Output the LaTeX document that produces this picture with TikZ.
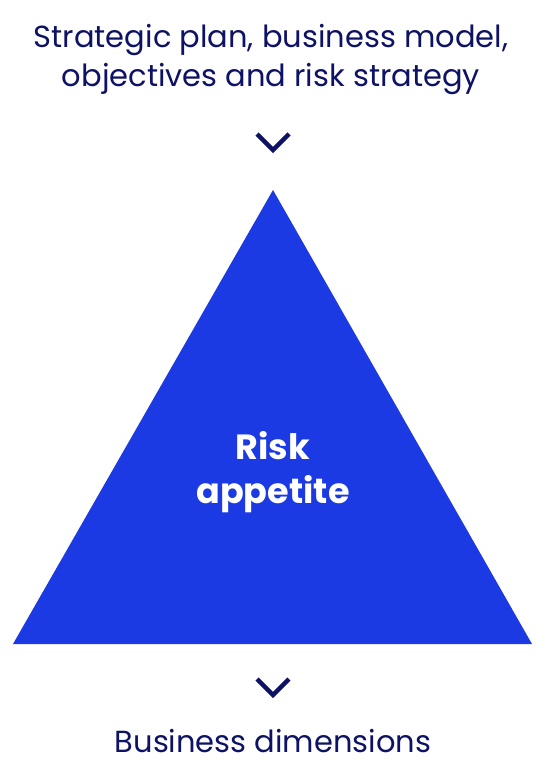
\documentclass[tikz,border=0pt]{standalone}
\usepackage{fontspec}
\setmainfont{Poppins}
\definecolor{navy}{RGB}{14,18,100}
\definecolor{riskblue}{RGB}{27,58,228}
\tikzset{
  label/.style={text=navy, font=\fontsize{30.5}{39}\selectfont, align=center, anchor=base, inner sep=0pt},
  chevron/.style={draw=navy, line width=4.5pt, line cap=butt, line join=miter},
}

\begin{document}
\begin{tikzpicture}[x=1pt, y=-1pt]
	\useasboundingbox[fill=white] (0,0) rectangle (547,760);

	% Input text
	\node[label] (strategy) at (271,86) {Strategic plan, business model,\\objectives and risk strategy};

	% Top chevron
	\draw[chevron] (257,134) -- (273,150) -- (289,134);

	% Triangle
	\fill[riskblue] (273,190) -- (532,644) -- (13,644) -- cycle;
	\node[text=white, font=\fontsize{35}{44}\selectfont\bfseries, align=center, anchor=base, inner sep=0pt] (appetite) at (273,503) {Risk\\appetite};

	% Bottom chevron
	\draw[chevron] (257,679) -- (273,695) -- (289,679);

	% Output text
	\node[label, text depth=0pt] (dimensions) at (273,752) {Business dimensions};
\end{tikzpicture}
\end{document}
